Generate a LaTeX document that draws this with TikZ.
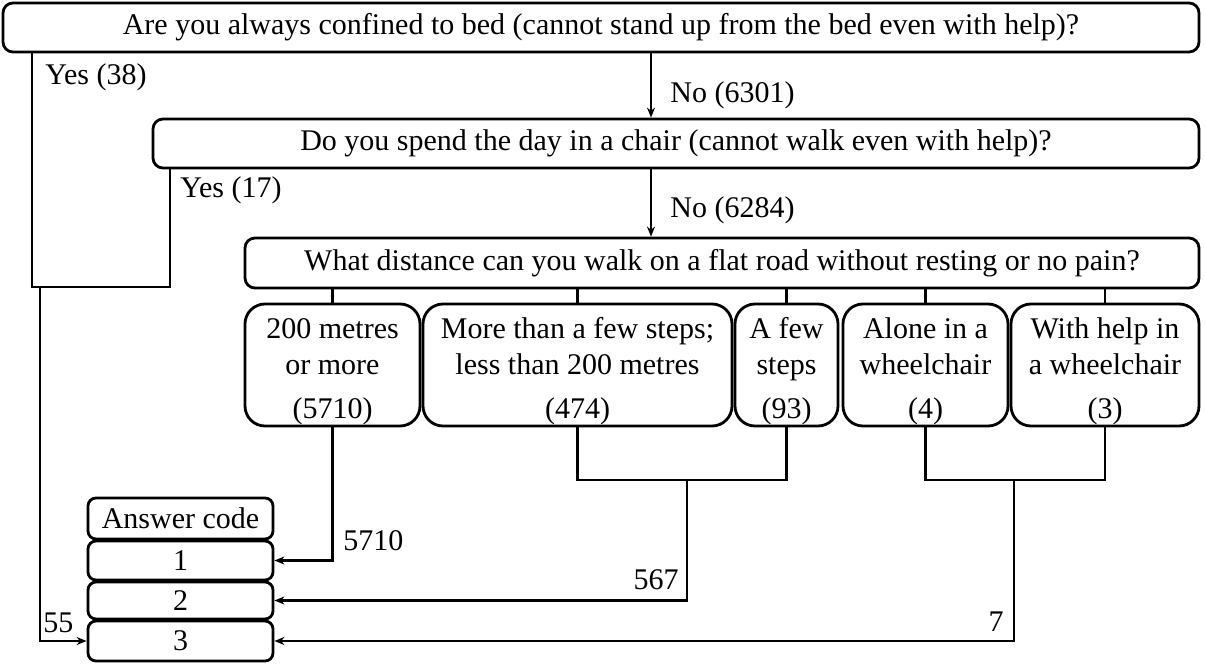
\documentclass[tikz,border=0pt]{standalone}
\usepackage{fontspec}
\setmainfont{Liberation Serif}
\usetikzlibrary{arrows.meta,calc}
\begin{document}
\begin{tikzpicture}[x=0.5pt,y=-0.5pt,
  every node/.style={font=\fontsize{15}{18}\selectfont, inner sep=0pt},
  qbox/.style={draw, line width=1.4pt, rounded corners=5pt, minimum height=24.5pt},
  cbox/.style={draw, line width=1.4pt, rounded corners=10pt, minimum height=61pt, align=center},
  abox/.style={draw, line width=1.4pt, rounded corners=4pt, minimum width=92.5pt},
  conn/.style={line width=1.3pt},
  arr/.style={line width=1.3pt, -{Stealth[length=5pt,width=4pt]}},
  lbl/.style={}
]
\useasboundingbox (0,0) rectangle (1205,664);
% question boxes
\node[qbox, minimum width=598pt] (q1) at (601,27.5) {Are you always confined to bed (cannot stand up from the bed even with help)?};
\node[qbox, minimum width=523pt] (q2) at (676,143.5) {Do you spend the day in a chair (cannot walk even with help)?};
\node[qbox, minimum width=477pt, minimum height=25pt] (q3) at (722,263) {What distance can you walk on a flat road without resting or no pain?};
% children
\node[cbox, minimum width=87.5pt] (c1) at (332.5,365) {\rule{0pt}{17pt}200 metres\\or more\\[4pt](5710)};
\node[cbox, minimum width=154.5pt] (c2) at (577.5,365) {\rule{0pt}{17pt}More than a few steps;\\less than 200 metres\\[4pt](474)};
\node[cbox, minimum width=51.5pt] (c3) at (786.5,365) {\rule{0pt}{17pt}A few\\steps\\[4pt](93)};
\node[cbox, minimum width=82.5pt] (c4) at (925.5,365) {\rule{0pt}{17pt}Alone in a\\wheelchair\\[4pt](4)};
\node[cbox, minimum width=94pt] (c5) at (1105,365) {\rule{0pt}{17pt}With help in\\a wheelchair\\[4pt](3)};
% answer boxes
\node[abox, minimum height=20.5pt] (ac) at (180.5,518.5) {Answer code};
\node[abox, minimum height=19.5pt] (a1) at (180.5,560.5) {1};
\node[abox, minimum height=18.5pt] (a2) at (180.5,600.5) {2};
\node[abox, minimum height=20pt] (a3) at (180.5,641) {3};
% coordinates
\coordinate (j1) at (32,287);
\coordinate (j2) at (170,287);
\coordinate (j3) at (40,287);
\coordinate (m1) at (687,480);
\coordinate (m2) at (1014,480);
% Yes branches
\draw[conn] (q1.south -| j1) -- (j1) -- (j2) -- (q2.south -| j2);
\draw[arr] (j3) |- (a3.west);
% No branches
\draw[arr] (q1.south -| 651,0) -- (q2.north -| 651,0);
\draw[arr] (q2.south -| 651,0) -- (q3.north -| 651,0);
% ticks
\foreach \c in {c1,c2,c3,c4,c5}{
  \draw[conn] (q3.south -| \c.north) -- (\c.north);
}
% merges
\draw[arr] (c1.south) |- (a1.east);
\draw[conn] (c2.south) |- (m1) -| (c3.south);
\draw[arr] (m1) |- (a2.east);
\draw[conn] (c4.south) |- (m2) -| (c5.south);
\draw[arr] (m2) |- (a3.east);
% labels
\node[lbl, anchor=west] (l38) at (45,77) {Yes (38)};
\node[lbl, anchor=west] (l17) at (180,190) {Yes (17)};
\node[lbl, anchor=west] (l6301) at (670,95) {No (6301)};
\node[lbl, anchor=west] (l6284) at (670,210) {No (6284)};
\node[lbl, anchor=west] (l5710) at (343,541) {5710};
\node[lbl, anchor=east] (l567) at (679,580) {567};
\node[lbl, anchor=east] (l7) at (1004,622) {7};
\node[lbl, anchor=west] (l55) at (43,623) {55};
\end{tikzpicture}
\end{document}
